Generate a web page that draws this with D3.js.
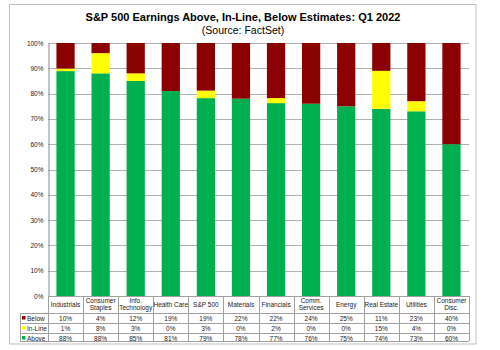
<!DOCTYPE html>
<html><head><meta charset="utf-8">
<script src="https://cdn.jsdelivr.net/npm/d3@7"></script>
<style>body{margin:0;background:#fff;font-family:"Liberation Sans",Arial,sans-serif;}</style>
</head><body><svg id="c" width="500" height="350"></svg>
<script>
const categories = ["Industrials","Consumer\nStaples","Info.\nTechnology","Health Care","S&P 500","Materials","Financials","Comm.\nServices","Energy","Real Estate","Utilities","Consumer\nDisc."];
const below  = [10,4,12,19,19,22,22,24,25,11,23,40];
const inline = [1,8,3,0,3,0,2,0,0,15,4,0];
const above  = [88,88,85,81,79,78,77,76,75,74,73,60];
const seriesNames = ["Above","In-Line","Below"];
const colors = {"Below":"#8B0000","In-Line":"#FFFF00","Above":"#00B050"};
const yTicks = [0,0.1,0.2,0.3,0.4,0.5,0.6,0.7,0.8,0.9,1];

const svg = d3.select("#c");
const L=48, R=469, T=43, B=296;
svg.append("rect").attr("x",9.5).attr("y",4.5).attr("width",466.5).attr("height",339.5).attr("fill","#fff").attr("stroke","#bfbfbf");

svg.append("text").attr("x",243).attr("y",21).attr("text-anchor","middle").attr("font-weight","bold").attr("font-size",11).text("S&P 500 Earnings Above, In-Line, Below Estimates: Q1 2022");
svg.append("text").attr("x",243).attr("y",34).attr("text-anchor","middle").attr("font-size",10.5).text("(Source: FactSet)");

const data = categories.map((c,i)=>({cat:c,"Below":below[i],"In-Line":inline[i],"Above":above[i]}));
const stack = d3.stack().keys(seriesNames).offset(d3.stackOffsetExpand)(data);
const x = d3.scaleBand().domain(categories).range([L,R]).paddingInner(0.48).paddingOuter(0.24);
const xb = d3.scaleBand().domain(categories).range([L,R]);
const y = d3.scaleLinear().domain([0,1]).range([B,T]);

// gridlines
svg.append("g").selectAll("line").data(yTicks).join("line")
  .attr("x1",L).attr("x2",R).attr("y1",d=>Math.round(y(d))+0.5).attr("y2",d=>Math.round(y(d))+0.5)
  .attr("stroke","#b0b0b0").attr("stroke-width",1);

const yAxis = d3.axisLeft(y).tickValues(yTicks).tickFormat(d3.format(".0%")).tickSize(0).tickPadding(5);
const ga = svg.append("g").attr("transform",`translate(${L+0.5},0)`).call(yAxis);
ga.select(".domain").attr("stroke","#888");
ga.selectAll("text").attr("font-size",6.5).attr("fill","#222").attr("font-family","Liberation Sans, Arial, sans-serif");

svg.append("g").selectAll("g").data(stack).join("g").attr("fill",d=>colors[d.key])
  .selectAll("rect").data(d=>d).join("rect")
  .attr("x",d=>x(d.data.cat)).attr("width",x.bandwidth())
  .attr("y",d=>y(d[1])).attr("height",d=>y(d[0])-y(d[1]));

// data table
const rowY = [296,313,323,333,341];
const g = svg.append("g").attr("font-size",6.5).attr("fill","#222");
const lc="#a0a0a0";
// horizontal lines
g.append("line").attr("x1",L).attr("x2",R).attr("y1",rowY[0]+0.5).attr("y2",rowY[0]+0.5).attr("stroke",lc);
[1,2,3,4].forEach(k=>g.append("line").attr("x1",20).attr("x2",R).attr("y1",rowY[k]+0.5).attr("y2",rowY[k]+0.5).attr("stroke",lc));
// vertical lines
categories.forEach((c,i)=>g.append("line").attr("x1",Math.round(xb(c))+0.5).attr("x2",Math.round(xb(c))+0.5).attr("y1",rowY[0]).attr("y2",rowY[4]).attr("stroke",lc));
g.append("line").attr("x1",R+0.5).attr("x2",R+0.5).attr("y1",rowY[0]).attr("y2",rowY[4]).attr("stroke",lc);
g.append("line").attr("x1",20.5).attr("x2",20.5).attr("y1",rowY[1]).attr("y2",rowY[4]).attr("stroke",lc);
// headers
categories.forEach(c=>{
  const lines=c.split("\n");
  const cx=xb(c)+xb.bandwidth()/2;
  const t=g.append("text").attr("text-anchor","middle").attr("fill","#222");
  lines.forEach((ln,j)=>t.append("tspan").attr("x",cx).attr("y",lines.length===1?307:302.5+j*7.5).text(ln));
});
const rows=[["Below",below],["In-Line",inline],["Above",above]];
rows.forEach(([name,vals],k)=>{
  const yy=rowY[k+1]+7.5;
  g.append("rect").attr("x",22).attr("y",yy-4.5).attr("width",3.5).attr("height",3.5).attr("fill",colors[name]);
  g.append("text").attr("x",27).attr("y",yy).attr("fill","#222").text(name);
  vals.forEach((v,i)=>g.append("text").attr("x",xb(categories[i])+xb.bandwidth()/2).attr("y",yy).attr("text-anchor","middle").attr("fill","#222").text(v+"%"));
});
</script></body></html>
